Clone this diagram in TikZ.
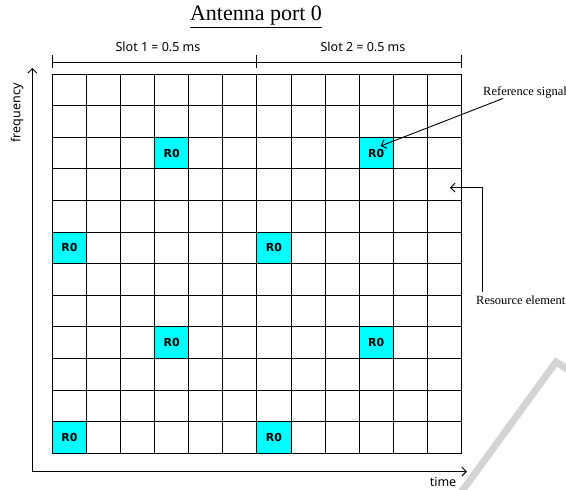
\documentclass[tikz,border=0pt]{standalone}
\usepackage{fontspec}
\setmainfont{Liberation Serif}
\setsansfont{Noto Sans}
\newfontfamily\rofont{DejaVu Sans}
\usetikzlibrary{arrows.meta, positioning, calc}
\definecolor{rocyan}{HTML}{00FFFF}
\definecolor{wmgray}{HTML}{D4D4D4}

\begin{document}
\begin{tikzpicture}[
  x=1pt, y=-1pt,
  re/.style={draw, line width=0.9pt, minimum width=34.1pt, minimum height=31.6pt, inner sep=0pt, outer sep=0pt},
  refsym/.style={re, fill=rocyan, font=\rofont\bfseries\fontsize{11}{13}\selectfont},
  axislbl/.style={font=\sffamily\fontsize{12.5}{14}\selectfont, inner sep=0pt},
  slotlbl/.style={font=\sffamily\fontsize{12.5}{14}\selectfont, inner sep=0pt},
  note/.style={font=\fontsize{12.5}{14}\selectfont, inner sep=0pt},
  barb/.style={-{Straight Barb[length=4.5pt, width=9pt]}, line width=0.9pt}
]
\useasboundingbox (0,0) rectangle (566,490);

\draw[wmgray, line width=7pt, line join=miter] (460,494) -- (556,362) -- (572,372);

\node[inner sep=0pt, font=\fontsize{22}{26}\selectfont] (title) at (256,17) {\underline{Antenna port 0}};

\foreach \r in {0,...,11}
  \foreach \c in {0,...,11}
    \node[re] (re-\r-\c) at ({52.3+34.1*(\c+0.5)}, {74+31.6*(\r+0.5)}) {};
\foreach \r/\c in {2/3, 2/9, 5/0, 5/6, 8/3, 8/9, 11/0, 11/6}
  \node[refsym] (rs-\r-\c) at (re-\r-\c) {R0};

\coordinate (s0) at (52.3,62);
\coordinate (s1) at (256.9,62);
\coordinate (s2) at (461.5,62);
\draw[line width=0.9pt] (s0) -- (s2);
\foreach \s in {s0,s1,s2}
  \draw[line width=0.9pt] ($(\s)+(0,-7)$) -- ($(\s)+(0,6)$);
\node[slotlbl] (slot1) at (158,47) {Slot 1 = 0.5 ms};
\node[slotlbl] (slot2) at (363,47) {Slot 2 = 0.5 ms};

\coordinate (org) at (32.3,471.5);
\coordinate (ftop) at (32.3,68);
\coordinate (tend) at (467,471.5);
\draw[{Straight Barb[length=4.5pt, width=9pt]}-{Straight Barb[length=4.5pt, width=9pt]}, line width=0.9pt] (ftop) |- (tend);
\node[axislbl, rotate=90] (freq) at (17,113) {frequency};
\node[axislbl] (time) at (443,482) {time};

\node[note, anchor=west] (refsig) at (483,92) {Reference signal};
\draw[barb] ($(refsig.south west)+(20,0.5)$) -- ($(rs-2-9.center)+(4.5,-7)$);

\node[note, anchor=west] (resel) at (476,300.7) {Resource element};
\draw[barb] ($(resel.north west)+(6,-4)$) |- ($(re-3-11.center)+(5.5,3)$);
\end{tikzpicture}
\end{document}
